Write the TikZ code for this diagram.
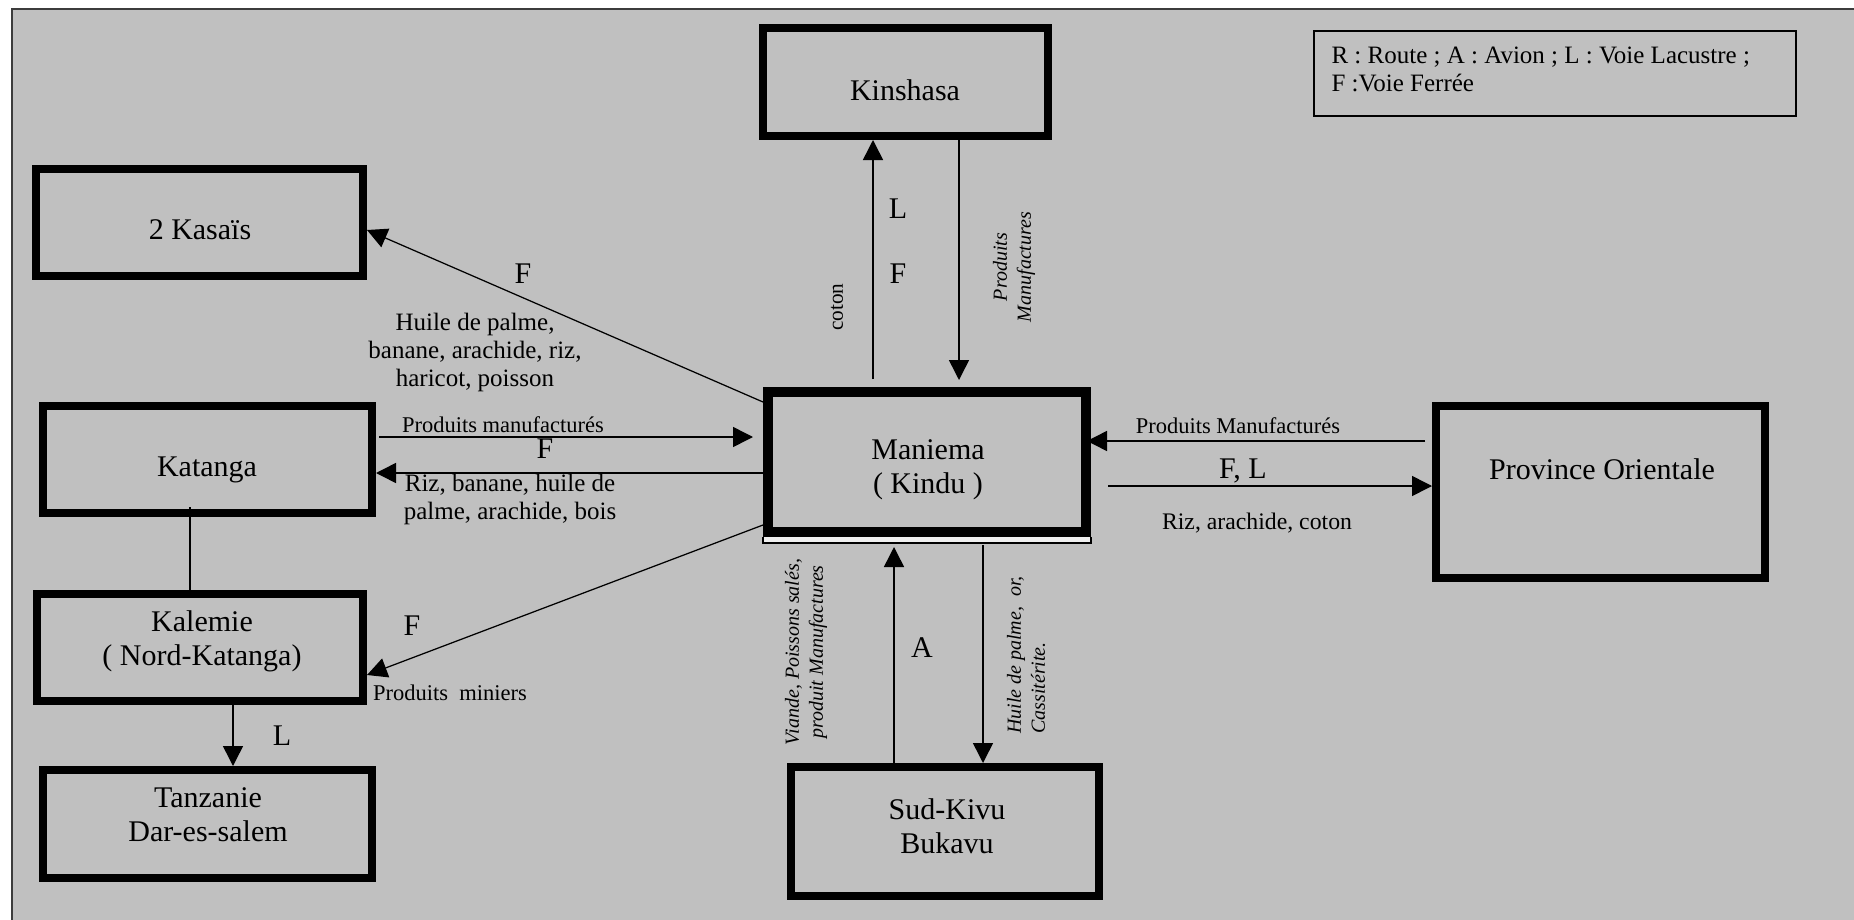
\documentclass[tikz,border=0pt]{standalone}
\usepackage{fontspec}
\setmainfont{Liberation Serif}
\usetikzlibrary{arrows.meta,fit}

\definecolor{paper}{RGB}{192,192,192}
\definecolor{framegray}{RGB}{60,60,60}

\begin{document}
\begin{tikzpicture}[x=0.4pt,y=-0.4pt,
  box/.style={draw, line width=3.2pt, inner sep=0pt},
  place/.style={inner sep=0pt, align=center, font=\fontsize{12}{13.6}\selectfont},
  mode/.style={inner sep=0pt, font=\fontsize{12}{14}\selectfont},
  goods/.style={inner sep=0pt, align=center, font=\fontsize{10}{11.2}\selectfont},
  goodssmall/.style={inner sep=0pt, align=center, font=\fontsize{9}{10.8}\selectfont},
  goodsup/.style={inner sep=0pt, rotate=90, font=\itshape\fontsize{8}{9.6}\selectfont},
  arr/.style={line width=0.6pt, -{Triangle[length=8pt,width=8pt]}},
  link/.style={line width=0.6pt},
]
\useasboundingbox (0,0) rectangle (1854,920);
\fill[white] (0,0) rectangle (1854,920);
\fill[paper] (11,8) rectangle (1854,920);
\draw[framegray, line width=0.8pt] (12,920) -- (12,9) -- (1854,9);

% guide coordinates for connector ends
\foreach \v in {230,402,437,441,473,486,525,675}{\coordinate (y\v) at (0,\v);}
\foreach \u in {190,233,873,894,959,983}{\coordinate (x\u) at (\u,0);}

% legend
\node[draw, line width=0.8pt, inner sep=0pt, fit={(1314,31) (1796,116)}] (legend) {};
\node[inner sep=0pt, anchor=west, align=left, font=\fontsize{10}{11.2}\selectfont]
  (legendT) at (1331,69) {R : Route ; A : Avion ; L : Voie Lacustre ;\\F :Voie Ferrée};

% regions
\node[box, fit={(763,28) (1048,136)}] (kin) {};
\node[place] (kinT) at (905,90) {Kinshasa};

\node[box, fit={(36,169) (363,276)}] (kas) {};
\node[place] (kasT) at (200,230) {2 Kasaïs};

\node[box, fit={(43,406) (372,513)}] (kat) {};
\node[place] (katT) at (207,470) {Katanga};

\node[box, fit={(37,594) (363,701)}] (kal) {};
\node[place] (kalT) at (202,641) {Kalemie\\( Nord-Katanga)};

\node[box, fit={(43,770) (372,878)}] (tan) {};
\node[place] (tanT) at (208,815) {Tanzanie\\Dar-es-salem};

\node[box, line width=4pt, fit={(768,392) (1086,532)}] (man) {};
\node[place] (manT) at (928,470) {Maniema\\( Kindu )};
\fill[white!75!paper] (763,537) rectangle (1091,542);
\draw[line width=0.5pt] (763,537) -- (763,543) -- (1091,543) -- (1091,537);

\node[box, fit={(1436,406) (1765,578)}] (pro) {};
\node[place] (proT) at (1602,469) {Province Orientale};

\node[box, fit={(791,767) (1099,896)}] (sud) {};
\node[place] (sudT) at (947,826) {Sud-Kivu\\Bukavu};

% Kinshasa
\draw[arr, shorten <=3.2pt] (man.north -| x873) -- (kin.south -| x873);
\draw[arr, shorten >=2.8pt] (kin.south -| x959) -- (man.north -| x959);
\node[mode] (kinL) at (898,209) {L};
\node[mode] (kinF) at (898,274) {F};
\node[inner sep=0pt, rotate=90, font=\fontsize{8.5}{10}\selectfont] (kinG1) at (837,307) {coton};
\node[goodsup, align=center] (kinG2) at (1014,267) {Produits\\Manufactures};

% 2 Kasais
\draw[arr, line width=0.5pt] (man.west |- y402) -- (kas.east |- y230);
\node[mode] (kasF) at (523,274) {F};
\node[goods] (kasG) at (475,352) {Huile de palme,\\banane, arachide, riz,\\haricot, poisson};

% Katanga
\draw[arr, shorten <=1.2pt, shorten >=4pt] (kat.east |- y437) -- (man.west |- y437);
\draw[arr] (man.west |- y473) -- (kat.east |- y473);
\node[goodssmall] (katG1) at (503,425) {Produits manufacturés};
\node[mode] (katF) at (545,449) {F};
\node[goods] (katG2) at (510,499) {Riz, banane, huile de\\palme, arachide, bois};
\draw[link, shorten <=-4pt] (kat.south -| x190) -- (kal.north -| x190);

% Kalemie and Tanzanie
\draw[arr, line width=0.5pt] (man.west |- y525) -- (kal.east |- y675);
\node[mode] (kalF) at (412,626) {F};
\node[goodssmall] (kalG) at (450,693) {Produits\ \ miniers};
\draw[arr] (kal.south -| x233) -- (tan.north -| x233);
\node[mode] (tanL) at (282,736) {L};

% Province Orientale
\draw[arr, shorten <=2.8pt, shorten >=-1.6pt] (pro.west |- y441) -- (man.east |- y441);
\draw[arr, shorten <=6.8pt] (man.east |- y486) -- (pro.west |- y486);
\node[goodssmall] (proG1) at (1238,426) {Produits Manufacturés};
\node[mode] (proF) at (1243,471) {F, L};
\node[goodssmall, font=\fontsize{9.5}{11}\selectfont] (proG2) at (1257,523) {Riz, arachide, coton};

% Sud-Kivu
\draw[arr, shorten >=4pt] (sud.north -| x894) -- (man.south -| x894);
\draw[arr, shorten <=3.2pt] (man.south -| x983) -- (sud.north -| x983);
\node[mode] (sudA) at (922,648) {A};
\node[goodsup, align=center] (sudG1) at (806,652) {Viande, Poissons salés,\\produit Manufactures};
\node[goodsup, align=left] (sudG2) at (1026,655) {Huile de palme,\ \ or,\\Cassitérite.};
\end{tikzpicture}
\end{document}
